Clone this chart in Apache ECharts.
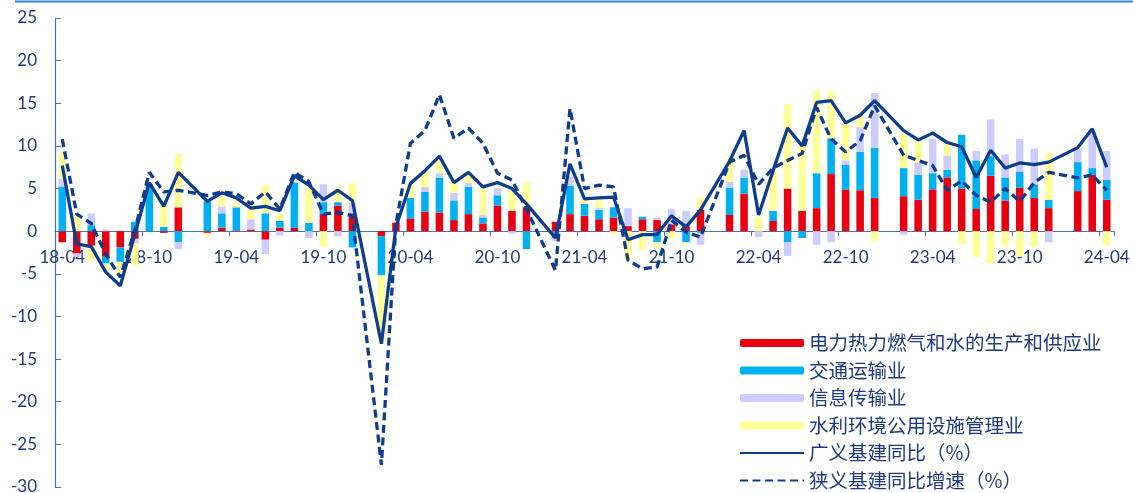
<!DOCTYPE html>
<html>
<head>
<meta charset="utf-8">
<script src="https://cdn.jsdelivr.net/npm/echarts@6/dist/echarts.min.js"></script>
<style>
html,body{margin:0;padding:0;background:#fff;}
#chart{width:1133px;height:493px;}
</style>
</head>
<body>
<div id="chart"></div>
<script>
// Months 2018-04 .. 2024-04 (January values are not published: null)
const months = [
 '18-04','18-05','18-06','18-07','18-08','18-09','18-10','18-11','18-12',
 '19-01','19-02','19-03','19-04','19-05','19-06','19-07','19-08','19-09','19-10','19-11','19-12',
 '20-01','20-02','20-03','20-04','20-05','20-06','20-07','20-08','20-09','20-10','20-11','20-12',
 '21-01','21-02','21-03','21-04','21-05','21-06','21-07','21-08','21-09','21-10','21-11','21-12',
 '22-01','22-02','22-03','22-04','22-05','22-06','22-07','22-08','22-09','22-10','22-11','22-12',
 '23-01','23-02','23-03','23-04','23-05','23-06','23-07','23-08','23-09','23-10','23-11','23-12',
 '24-01','24-02','24-03','24-04'
];
// Tick labels shown every 6 months (as printed in the source, incl. "28-10")
const tickLabels = ['18-04','28-10','19-04','19-10','20-04','20-10','21-04','21-10','22-04','22-10','23-04','23-10','24-04'];

const seriesNames = ['电力热力燃气和水的生产和供应业','交通运输业','信息传输业','水利环境公用设施管理业','广义基建同比（%）','狭义基建同比增速（%）'];

const power = [
 -1.3,-2.6,-1.7,-3.0,-1.9,-0.9,0,-0.2,2.8,
 null,-0.2,0.4,0.1,0.2,-1.0,0.4,0.4,0,2.0,3.0,2.1,
 null,-0.6,1.0,1.5,2.3,2.2,1.3,2.0,0.9,3.0,2.4,2.8,
 null,1.1,2.0,1.8,1.4,1.6,0.6,1.4,1.3,0.8,0.6,2.5,
 null,1.9,4.4,0,1.2,5.0,2.4,2.7,6.7,4.9,4.8,3.9,
 null,4.1,3.7,4.9,6.3,5.0,2.6,6.5,3.6,5.1,3.9,2.7,
 null,4.7,6.6,3.7
];
const transport = [
 5.2,0,0.7,-0.8,-1.7,1.1,5.5,0.5,-1.3,
 null,3.5,1.7,2.7,0,2.1,0.8,5.3,1.0,1.4,0.4,-1.9,
 null,-4.6,0,2.4,2.3,4.1,2.3,3.2,0.7,1.2,0,-2.1,
 null,-0.8,3.3,1.4,1.1,1.2,0,0.3,-1.3,0,-1.3,-0.2,
 null,3.2,1.9,0,1.2,-1.3,-0.8,4.1,4.2,2.9,4.5,5.9,
 null,3.3,2.9,1.9,0.9,6.3,5.7,2.3,2.7,1.9,1.6,1.0,
 null,3.4,0.8,2.3
];
const info = [
 1.0,-0.4,1.4,0.2,0,-0.5,0,0,-0.8,
 null,0,0.8,0,1.2,-1.7,-0.5,0,-0.8,2.1,-0.6,1.2,
 null,0,0,0,0.6,0.5,0.9,0.5,0.3,0.9,-0.3,0,
 null,-0.4,1.1,0,0.2,0,2.1,0,0.3,1.8,1.8,-1.4,
 null,0.7,0.9,-0.7,0,-1.6,0,-1.6,-1.3,0.5,2.9,6.4,
 null,-0.4,1.4,4.0,1.7,0,1.1,4.3,2.7,3.8,4.2,-1.3,
 null,1.6,4.3,3.4
];
const water = [
 2.9,2.0,-1.7,-0.8,-1.5,-2.6,0,2.9,6.3,
 null,-0.3,1.1,0.5,1.2,3.3,0.9,0,4.4,-1.8,1.7,2.3,
 null,-8.0,0,1.5,1.8,1.5,1.2,1.2,3.1,0,2.3,2.9,
 null,0,0,0.5,0.9,-0.3,-3.4,-2.2,-0.6,-0.9,-0.2,1.4,
 null,2.7,0,1.7,4.7,9.9,7.6,9.7,5.5,4.4,1.2,-1.2,
 null,4.0,2.7,0,1.5,-1.5,-3.0,-3.8,-1.7,-3.0,-1.8,5.5,
 null,0,0,-1.7
];
const broadInfra = [
 7.7,-1.5,-1.8,-4.8,-6.4,-0.4,5.7,2.9,6.9,
 null,3.5,4.5,3.9,2.7,2.9,2.4,6.5,5.4,3.7,4.8,3.6,
 null,-13.2,0.5,5.6,7.1,8.8,5.7,6.9,5.2,5.7,5.0,3.2,
 null,-0.8,7.9,3.8,3.9,4.0,-1.0,-0.4,-0.4,1.8,0.5,2.5,
 null,8.2,11.8,1.9,7.1,12.1,10.0,15.1,15.3,12.7,13.6,15.3,
 null,11.8,10.7,11.5,10.4,9.9,6.3,9.5,7.4,8.0,7.8,8.1,
 null,9.8,12.0,7.5
];
const narrowInfra = [
 10.8,2.0,0.9,-2.7,-5.4,0.1,6.9,4.6,4.8,
 null,4.2,4.6,4.4,3.2,4.6,2.6,6.9,5.8,2.0,2.2,1.8,
 null,-27.4,0.8,10.3,11.8,16.0,10.9,12.1,10.3,6.8,6.0,2.6,
 null,-4.6,14.4,5.0,5.4,5.2,-3.4,-4.4,-4.2,1.3,-0.1,-0.7,
 null,8.1,8.9,5.5,7.4,8.3,9.1,14.5,10.8,9.3,10.6,14.7,
 null,8.9,8.3,7.7,4.8,5.9,4.2,3.4,5.0,3.5,5.7,6.9,
 null,6.25,6.6,4.8
];

const textColor = '#1F3A80';
const axisColor = '#4A72B8';
const lineColor = '#0F3D8E';
const barColors = ['#E60012','#00B0F0','#CCCCFF','#FFFF99'];

const yMin = -30, yMax = 25;
const gridTop = 18, gridBottom = 6, H = 493;
const gridH = H - gridTop - gridBottom;
// move the category axis (line + labels) up to the value 0
const zeroOffset = -(gridH * (0 - yMin) / (yMax - yMin));

const chart = echarts.init(document.getElementById('chart'), null, {renderer:'canvas'});

function barSeries(name, data, color){
  return {
    name: name, type: 'bar', stack: 'infra', data: data,
    barWidth: '52%', itemStyle: {color: color}, emphasis: {disabled: true}
  };
}
const hidden = {color: 'rgba(0,0,0,0)', borderColor: 'rgba(0,0,0,0)', borderWidth: 0};

chart.setOption({
  animation: false,
  backgroundColor: '#fff',
  grid: {left: 55, right: 19, top: gridTop, bottom: gridBottom, containLabel: false, outerBoundsMode: 'none'},
  graphic: [{
    type: 'line', shape: {x1: 15, y1: 1.5, x2: 1133, y2: 1.5},
    style: {stroke: '#2F86D6', lineWidth: 2}, silent: true
  }],
  legend: {
    orient: 'vertical', left: 739, top: 333, padding: 0,
    itemWidth: 64, itemHeight: 8, itemGap: 7.5,
    data: [
      seriesNames[0], seriesNames[1], seriesNames[2], seriesNames[3],
      {name: seriesNames[4], itemStyle: hidden},
      {name: seriesNames[5], itemStyle: hidden}
    ],
    textStyle: {fontFamily: 'Noto Sans CJK SC', fontSize: 19.5, color: textColor, lineHeight: 20},
    selectedMode: false
  },
  xAxis: {
    type: 'category', data: months, boundaryGap: true, position: 'bottom', offset: zeroOffset,
    axisLine: {onZero: false, lineStyle: {color: axisColor, width: 1.2}},
    axisTick: {show: true, interval: 5, length: 5, inside: false, lineStyle: {color: axisColor}},
    axisLabel: {
      interval: 5, margin: 18, color: textColor, fontSize: 17, fontFamily: 'Lato',
      formatter: function(v, idx){ return tickLabels[Math.round(idx/6)] || v; }
    },
    splitLine: {show: false}
  },
  yAxis: {
    type: 'value', min: yMin, max: yMax, interval: 5,
    axisLine: {show: true, lineStyle: {color: axisColor, width: 1.2}},
    axisTick: {show: true, inside: true, length: 6, lineStyle: {color: axisColor}},
    axisLabel: {margin: 18, color: textColor, fontSize: 17, fontFamily: 'Lato'},
    splitLine: {show: false}
  },
  series: [
    barSeries(seriesNames[0], power, barColors[0]),
    barSeries(seriesNames[1], transport, barColors[1]),
    barSeries(seriesNames[2], info, barColors[2]),
    barSeries(seriesNames[3], water, barColors[3]),
    {
      name: seriesNames[4], type: 'line', data: broadInfra, connectNulls: true,
      symbol: 'none', lineStyle: {color: lineColor, width: 3.3}, itemStyle: {color: lineColor},
      z: 5, emphasis: {disabled: true}
    },
    {
      name: seriesNames[5], type: 'line', data: narrowInfra, connectNulls: true,
      symbol: 'none', lineStyle: {color: lineColor, width: 3.3, type: [8, 4.5]}, itemStyle: {color: lineColor},
      z: 5, emphasis: {disabled: true}
    }
  ]
});
</script>
</body>
</html>
